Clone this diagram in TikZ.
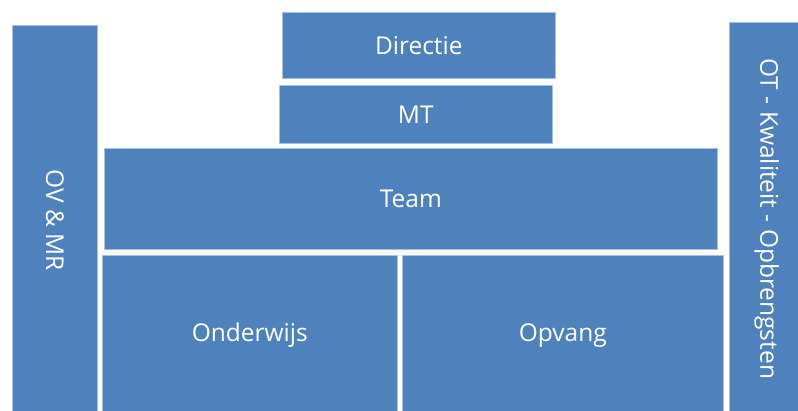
\documentclass[tikz,border=0pt]{standalone}
\usepackage{fontspec}
\setmainfont{Open Sans}
\usepackage{tikz}
\definecolor{blok}{HTML}{4F81BD}
\definecolor{rand}{HTML}{A7C0DE}
\tikzset{
  box/.style={rectangle, anchor=north west, inner sep=0pt, fill=blok, draw=rand,
    line width=0.6pt, text=white, font=\fontsize{24.5}{28}\selectfont},
  sz/.style 2 args={minimum width=#1pt, minimum height=#2pt}
}

\begin{document}
\begin{tikzpicture}[x=1pt, y=-1pt]
  \useasboundingbox (0,0) rectangle (798,410);

  % zijkanten
  \node[box, sz={85}{390}] (ovmr) at (12,25) {\rotatebox{-90}{OV \& MR}};
  \node[box, sz={75}{393}] (ot) at (729,22) {\rotatebox{-90}{OT - Kwaliteit - Opbrengsten}};

  % midden
  \node[box, sz={273}{66}] (directie) at (282,12) {Directie};
  \node[box, sz={273}{58}] (mt) at (279,85) {MT};
  \node[box, sz={613}{101}] (team) at (104,148) {Team};
  \node[box, sz={295}{160}] (onderwijs) at (102,255) {Onderwijs};
  \node[box, sz={321}{160}] (opvang) at (402,255) {Opvang};
\end{tikzpicture}
\end{document}
